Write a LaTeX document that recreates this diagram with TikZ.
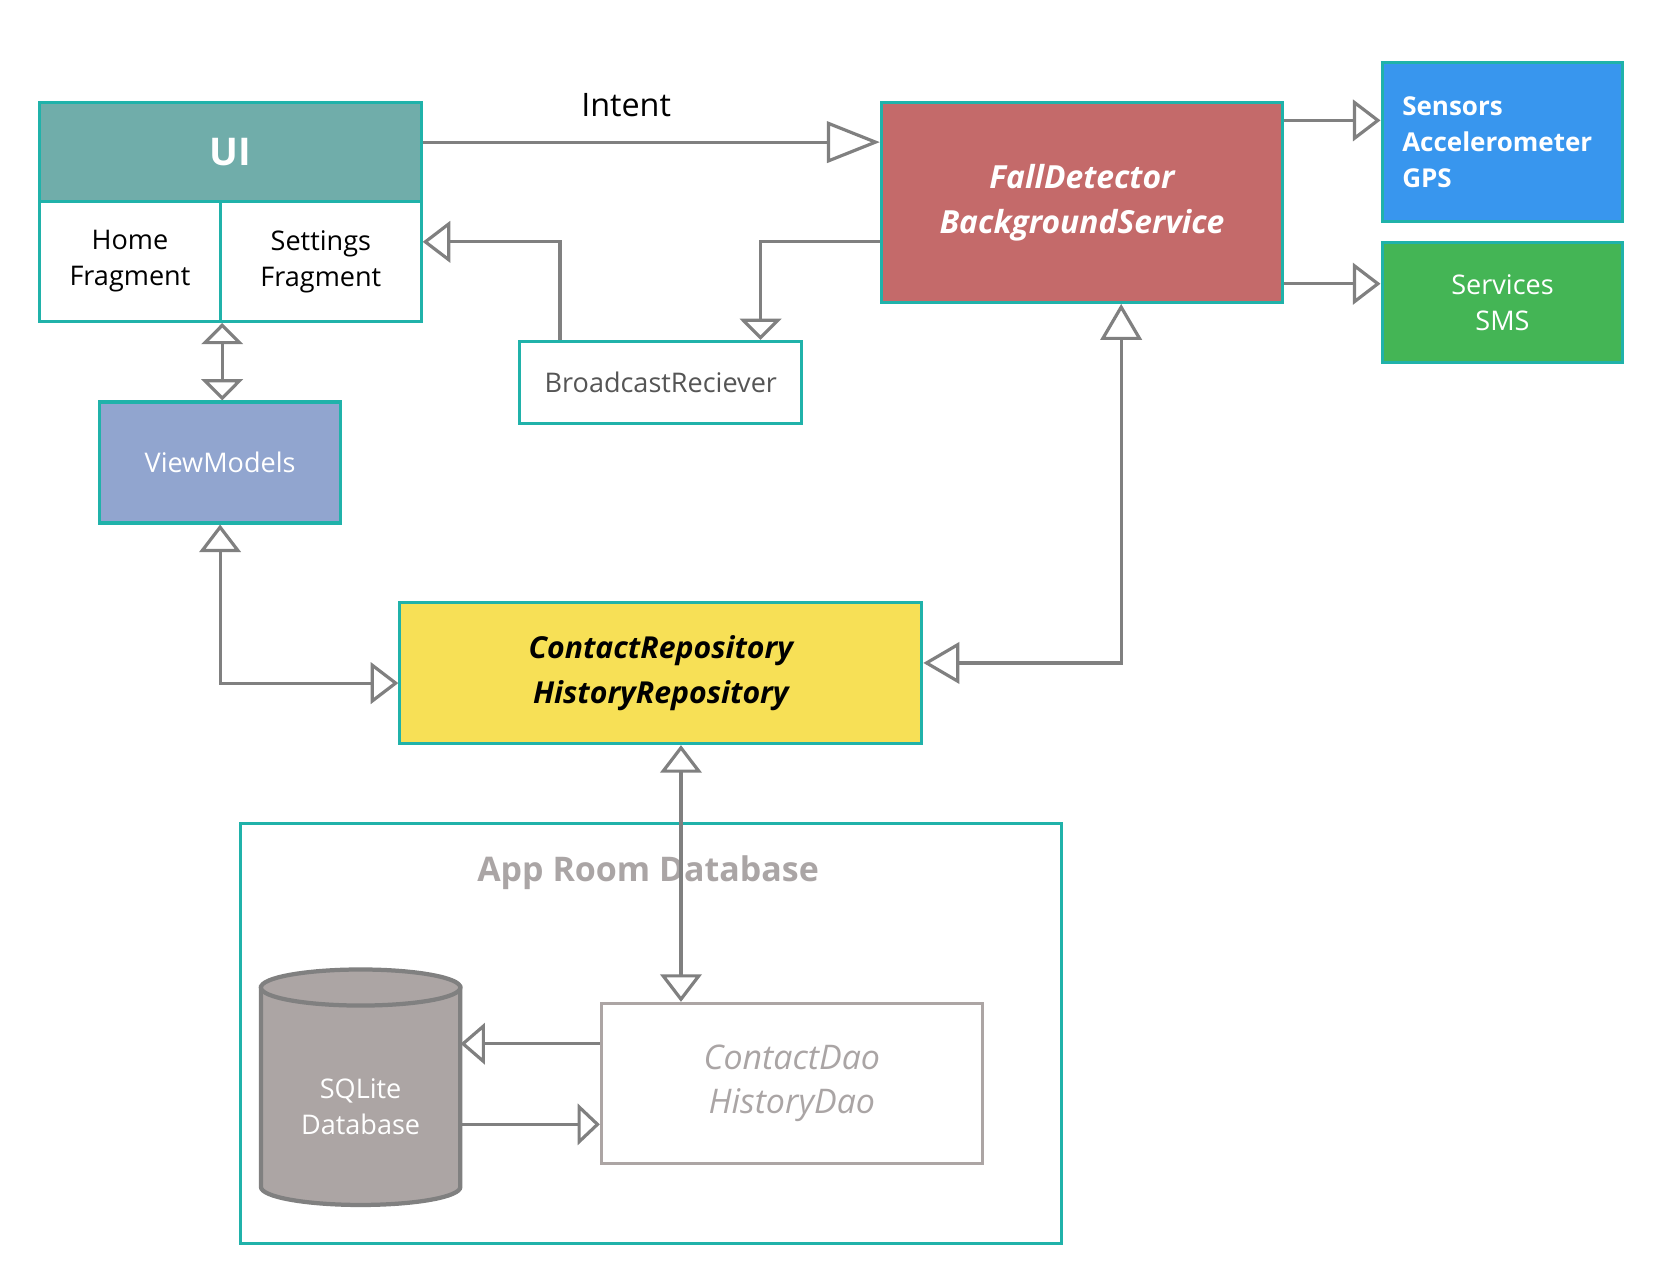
\documentclass[tikz,border=0pt]{standalone}
\usepackage{fontspec}
\setmainfont{Open Sans}
\usepackage{tikz}
\usetikzlibrary{arrows.meta}

\definecolor{tealline}{RGB}{32,178,170}
\definecolor{uihead}{RGB}{112,173,170}
\definecolor{fallred}{RGB}{196,106,106}
\definecolor{sensorblue}{RGB}{56,150,238}
\definecolor{smsgreen}{RGB}{68,181,85}
\definecolor{vmblue}{RGB}{145,165,207}
\definecolor{repoyellow}{RGB}{247,224,86}
\definecolor{dbgray}{RGB}{172,165,164}
\definecolor{linegray}{RGB}{128,128,128}
\definecolor{daotext}{RGB}{170,165,165}
\definecolor{bcasttext}{RGB}{85,85,85}

\tikzset{
	box/.style={rectangle, draw=tealline, line width=3pt, inner sep=0pt, align=center},
	plaintext/.style={font=\fontsize{25.5}{34}\selectfont},
	bigitalic/.style={font=\fontsize{30}{42}\selectfont\bfseries\itshape},
}

\begin{document}
\begin{tikzpicture}[x=1pt, y=-1pt]
	\fill[white] (0,0) rectangle (1565,1209);
	\useasboundingbox (0,0) rectangle (1565,1209);
	% database frame
	\node[box, minimum width=774pt, minimum height=396pt] (roomdb) at (614,974) {};
	\node[font=\fontsize{32}{40}\selectfont\bfseries, text=daotext] (roomtitle) at (611,823) {App Room Database};
	% sqlite cylinder
	\filldraw[fill=dbgray, draw=linegray, line width=4pt]
		(246,931) -- (246,1119) arc[start angle=180, end angle=360, x radius=94pt, y radius=17pt] -- (434,931) -- cycle;
	\filldraw[fill=dbgray, draw=linegray, line width=4pt] (340,931) ellipse [x radius=94pt, y radius=17pt];
	\node[plaintext, text=white, align=center, minimum width=188pt, inner sep=0pt] (sqlite) at (340,1043) {SQLite\\Database};
	\begin{scope}[every node/.style={box}]
		\node[fill=uihead, text=white, minimum width=360pt, minimum height=93pt,
		      font=\fontsize{36}{40}\selectfont\bfseries] (ui) at (217,143.5) {UI};
		\node[plaintext, fill=white, minimum width=171pt, minimum height=113pt] (home) at (122.5,246.5) {Home\\Fragment};
		\node[plaintext, fill=white, minimum width=189pt, minimum height=113pt] (settings) at (302.5,246.5) {Settings\\Fragment};
		\node[bigitalic, fill=fallred, text=white, minimum width=378pt, minimum height=188pt] (fall) at (1020,191) {FallDetector\\BackgroundService};
		\node[fill=sensorblue, text=white, align=left, text width=189pt, inner xsep=19pt, minimum height=150pt,
		      font=\fontsize{24.5}{34}\selectfont\bfseries] (sensors) at (1416.5,134) {Sensors\\Accelerometer\\GPS};
		\node[plaintext, fill=smsgreen, text=white, minimum width=227pt, minimum height=113pt] (services) at (1416.5,285.5) {Services\\SMS};
		\node[plaintext, fill=white, text=bcasttext, minimum width=266pt, minimum height=77pt] (bcast) at (623,360.5) {BroadcastReciever};
		\node[plaintext, fill=vmblue, text=white, minimum width=227pt, minimum height=114pt] (vm) at (207.5,436) {ViewModels};
		\node[bigitalic, fill=repoyellow, text=black, minimum width=492pt, minimum height=133pt,
		      font=\fontsize{28.5}{42}\selectfont\bfseries\itshape] (repo) at (623,634.5) {ContactRepository\\HistoryRepository};
		\node[draw=dbgray, fill=white, text=daotext, minimum width=359pt, minimum height=151pt,
		      font=\fontsize{32}{42}\selectfont\itshape] (dao) at (746.5,1021.5) {ContactDao\\HistoryDao};
	\end{scope}
	% connectors
	\coordinate (intentA) at ([yshift=9.5pt]ui.east);
	\coordinate (fsA) at ([yshift=-18pt]fall.north east);
	\coordinate (fvA) at ([yshift=19pt]fall.south east);
	\coordinate (fbA) at ([yshift=-37pt]fall.west);
	\coordinate (fbB) at ([xshift=94pt]bcast.north);
	\coordinate (bsA) at ([xshift=-95pt]bcast.north);
	\coordinate (bsB) at ([yshift=18.5pt]settings.east);
	\coordinate (vrB) at ([yshift=-9.5pt]repo.west);
	\coordinate (frA) at ([xshift=37pt]fall.south);
	\coordinate (frB) at ([yshift=9.5pt]repo.east);
	\coordinate (rdA) at ([xshift=19pt]repo.south);
	\coordinate (dsA) at ([yshift=37.5pt]dao.west);
	\coordinate (sdA) at ([yshift=-38.5pt]dao.west);
	\begin{scope}[>={Triangle[open, length=26pt, width=39pt]},
	              color=linegray, line width=3pt]
		\draw[-{Triangle[open, length=50pt, width=39pt]}] (intentA) -- node[pos=0.445, yshift=35pt, text=black,
			font=\fontsize{30.5}{34}\selectfont] (intent) {Intent} (intentA -| fall.west);
		\draw[->] (fsA) -- (fsA -| sensors.west);
		\draw[->] (fvA) -- (fvA -| services.west);
		\draw[-{Triangle[open, length=20pt, width=39pt]}] (fbA) -| (fbB);
		\draw[->] (bsA) |- (bsB);
		\draw[{Triangle[open, length=20pt, width=39pt]}-{Triangle[open, length=20pt, width=39pt]}]
			(home.south east) -- (home.south east |- vm.north);
		\draw[<->] (vm.south) |- (vrB);
		\draw[{Triangle[open, length=34pt, width=39pt]}-{Triangle[open, length=34pt, width=39pt]}] (frA) |- (frB);
		\draw[<->] (rdA) -- (rdA |- dao.north);
		\draw[-{Triangle[open, length=23pt, width=39pt]}] (dsA) -- (dsA -| sqlite.east);
		\draw[-{Triangle[open, length=21pt, width=39pt]}] (sdA -| sqlite.east) -- (sdA);
	\end{scope}
\end{tikzpicture}
\end{document}
